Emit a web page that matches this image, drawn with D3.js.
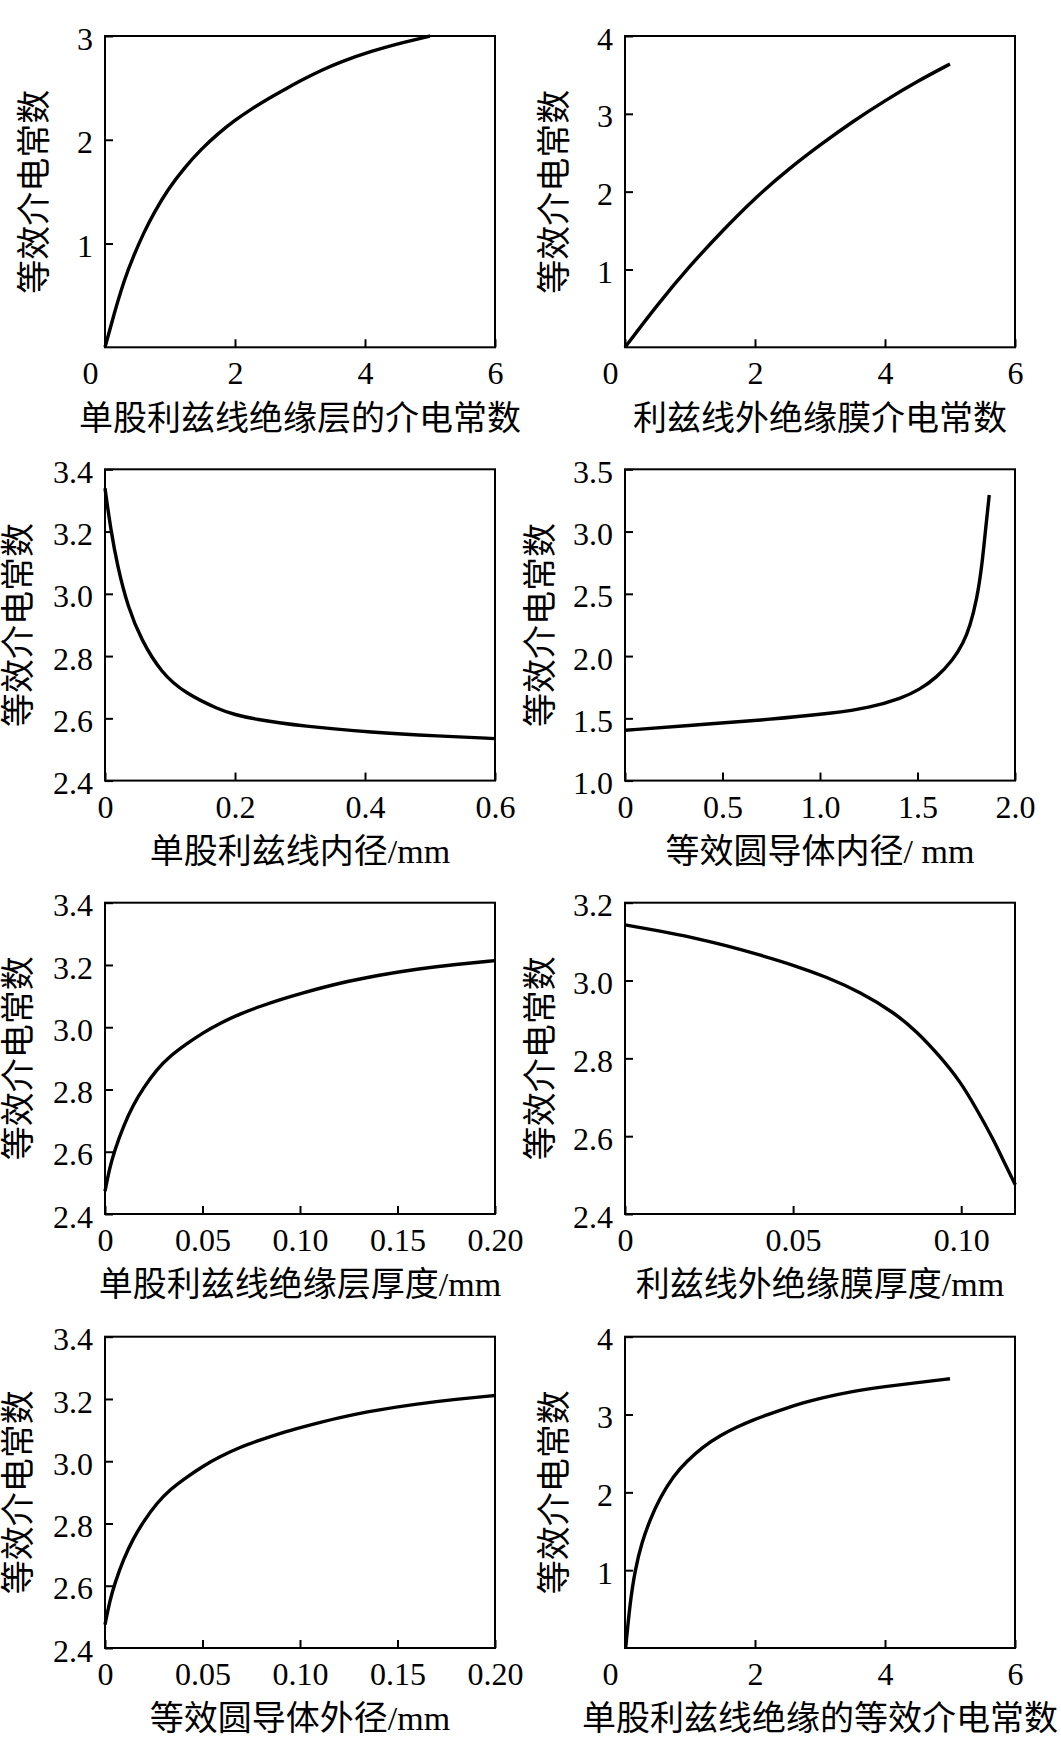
<!DOCTYPE html>
<html><head><meta charset="utf-8">
<script src="https://cdn.jsdelivr.net/npm/d3@7/dist/d3.min.js"></script>
<style>body{margin:0;background:#fff}</style>
</head><body>
<svg id="c" width="1061" height="1737"></svg>
<script>
// ---------- data ----------
const yTitle = "等效介电常数";

const p1X = [0, 0.134, 0.29, 0.445, 0.60, 0.757, 0.965, 1.22, 1.48, 1.74, 2.0, 2.26, 2.52, 2.78, 3.04, 3.33, 3.6, 4.1, 4.6, 5.0];
const p1Y = [0, 0.31, 0.64, 0.89, 1.11, 1.30, 1.52, 1.73, 1.91, 2.06, 2.19, 2.30, 2.40, 2.49, 2.58, 2.67, 2.745, 2.855, 2.94, 3.0];

const p2X = [0, 0.5, 1, 1.5, 2, 2.5, 3, 3.5, 4, 4.5, 5.0];
const p2Y = [0, 0.55, 1.05, 1.50, 1.92, 2.28, 2.60, 2.90, 3.17, 3.42, 3.64];

const p3X = [0, 0.0089, 0.0193, 0.035, 0.0557, 0.087, 0.123, 0.1755, 0.2, 0.2276, 0.306, 0.41, 0.514, 0.6];
const p3Y = [3.339, 3.205, 3.088, 2.959, 2.852, 2.745, 2.681, 2.628, 2.612, 2.598, 2.574, 2.555, 2.543, 2.535];

const p4X = [0, 0.382, 0.729, 1.076, 1.249, 1.422, 1.509, 1.596, 1.683, 1.735, 1.769, 1.804, 1.830, 1.847, 1.868];
const p4Y = [1.404, 1.449, 1.489, 1.543, 1.583, 1.663, 1.730, 1.824, 1.971, 2.104, 2.238, 2.452, 2.719, 2.987, 3.294];

const p5X = [0, 0.00256, 0.0051, 0.0094, 0.0145, 0.0197, 0.0265, 0.0333, 0.0419, 0.0504, 0.059, 0.0692, 0.08, 0.09, 0.10, 0.12, 0.14, 0.16, 0.18, 0.2];
const p5Y = [2.473, 2.553, 2.607, 2.682, 2.751, 2.805, 2.864, 2.907, 2.947, 2.983, 3.013, 3.043, 3.068, 3.089, 3.108, 3.142, 3.167, 3.187, 3.202, 3.214];

const p6X = [0, 0.01, 0.02, 0.03, 0.04, 0.05, 0.06, 0.07, 0.08, 0.0868, 0.0937, 0.0997, 0.1047, 0.1096, 0.1131, 0.1161];
const p6Y = [3.143, 3.128, 3.111, 3.090, 3.066, 3.040, 3.009, 2.970, 2.918, 2.869, 2.805, 2.741, 2.668, 2.591, 2.527, 2.475];

const p7X = [0, 0.00256, 0.0051, 0.0094, 0.0145, 0.0197, 0.0265, 0.0333, 0.0419, 0.0504, 0.059, 0.0692, 0.08, 0.09, 0.10, 0.12, 0.14, 0.16, 0.18, 0.2];
const p7Y = [2.475, 2.555, 2.609, 2.684, 2.752, 2.806, 2.865, 2.909, 2.949, 2.985, 3.015, 3.045, 3.069, 3.090, 3.108, 3.141, 3.165, 3.184, 3.199, 3.211];

const p8X = [0.01, 0.077, 0.154, 0.256, 0.385, 0.538, 0.743, 0.949, 1.205, 1.46, 1.72, 1.97, 2.23, 2.49, 2.74, 3.0, 3.5, 4.0, 4.5, 5.0];
const p8Y = [0, 0.58, 1.0, 1.35, 1.65, 1.93, 2.21, 2.40, 2.59, 2.73, 2.84, 2.93, 3.01, 3.085, 3.15, 3.21, 3.30, 3.36, 3.41, 3.46];

const xTitles = [
  "单股利兹线绝缘层的介电常数", "利兹线外绝缘膜介电常数",
  "单股利兹线内径/mm", "等效圆导体内径/ mm",
  "单股利兹线绝缘层厚度/mm", "利兹线外绝缘膜厚度/mm",
  "等效圆导体外径/mm", "单股利兹线绝缘的等效介电常数"
];

const xDomains = [[0, 6], [0, 6], [0, 0.6], [0, 2], [0, 0.2], [0, 0.116], [0, 0.2], [0, 6]];
const yDomains = [[0, 3], [0, 4], [2.4, 3.4], [1, 3.5], [2.4, 3.4], [2.4, 3.2], [2.4, 3.4], [0, 4]];

const xTickVals = [
  [0, 2, 4, 6], [0, 2, 4, 6], [0, 0.2, 0.4, 0.6], [0, 0.5, 1, 1.5, 2],
  [0, 0.05, 0.1, 0.15, 0.2], [0, 0.05, 0.1], [0, 0.05, 0.1, 0.15, 0.2], [0, 2, 4, 6]
];
const xTickLabels = [
  ["0", "2", "4", "6"], ["0", "2", "4", "6"], ["0", "0.2", "0.4", "0.6"], ["0", "0.5", "1.0", "1.5", "2.0"],
  ["0", "0.05", "0.10", "0.15", "0.20"], ["0", "0.05", "0.10"], ["0", "0.05", "0.10", "0.15", "0.20"], ["0", "2", "4", "6"]
];
const yTickVals = [
  [1, 2, 3], [1, 2, 3, 4], [2.4, 2.6, 2.8, 3.0, 3.2, 3.4], [1.0, 1.5, 2.0, 2.5, 3.0, 3.5],
  [2.4, 2.6, 2.8, 3.0, 3.2, 3.4], [2.4, 2.6, 2.8, 3.0, 3.2], [2.4, 2.6, 2.8, 3.0, 3.2, 3.4], [1, 2, 3, 4]
];
const yTickLabels = [
  ["1", "2", "3"], ["1", "2", "3", "4"], ["2.4", "2.6", "2.8", "3.0", "3.2", "3.4"], ["1.0", "1.5", "2.0", "2.5", "3.0", "3.5"],
  ["2.4", "2.6", "2.8", "3.0", "3.2", "3.4"], ["2.4", "2.6", "2.8", "3.0", "3.2"], ["2.4", "2.6", "2.8", "3.0", "3.2", "3.4"], ["1", "2", "3", "4"]
];

const seriesX = [p1X, p2X, p3X, p4X, p5X, p6X, p7X, p8X];
const seriesY = [p1Y, p2Y, p3Y, p4Y, p5Y, p6Y, p7Y, p8Y];

// ---------- layout ----------
const colLeft = [105, 625];
const rowTop = [36, 469.3, 902.7, 1336.7];
const plotW = 390, plotH = 311.3;
const yTitleX = [[34, 554], [18, 540], [18, 540], [18, 554]];
const originShift = [-15, -15, 0, 0, 0, 0, 0, -15];
const serif = "'Liberation Serif','Times New Roman','Noto Sans CJK SC',serif";

const svg = d3.select("#c");
svg.append("rect").attr("width", 1061).attr("height", 1737).attr("fill", "#fff");

for (let i = 0; i < 8; i++) {
  const r = Math.floor(i / 2), c = i % 2;
  const left = colLeft[c], top = rowTop[r];
  const x = d3.scaleLinear().domain(xDomains[i]).range([0, plotW]);
  const y = d3.scaleLinear().domain(yDomains[i]).range([plotH, 0]);
  const g = svg.append("g").attr("transform", `translate(${left},${top})`);

  // x axis
  const xa = g.append("g").attr("transform", `translate(0,${plotH})`)
    .call(d3.axisBottom(x).tickValues(xTickVals[i])
      .tickFormat((d, k) => xTickLabels[i][k]).tickSize(-8).tickPadding(0));
  xa.attr("font-family", null).attr("font-size", null);
  xa.select(".domain").remove();
  xa.selectAll("line").attr("stroke", "#000").attr("stroke-width", 2);
  xa.selectAll("text").attr("y", 37).attr("dy", null)
    .attr("x", (d, k) => k === 0 ? originShift[i] : 0)
    .style("font-size", "32px").style("font-family", serif).attr("fill", "#000");

  // y axis
  const ya = g.append("g")
    .call(d3.axisLeft(y).tickValues(yTickVals[i])
      .tickFormat((d, k) => yTickLabels[i][k]).tickSize(-8).tickPadding(12));
  ya.attr("font-family", null).attr("font-size", null);
  ya.select(".domain").remove();
  ya.selectAll("line").attr("stroke", "#000").attr("stroke-width", 2);
  ya.selectAll("text").attr("dy", "0.41em")
    .style("font-size", "32px").style("font-family", serif).attr("fill", "#000");

  // frame
  g.append("rect").attr("x", 0).attr("y", 0).attr("width", plotW).attr("height", plotH)
    .attr("fill", "none").attr("stroke", "#000").attr("stroke-width", 2);

  // curve
  const pts = seriesX[i].map((v, k) => [v, seriesY[i][k]]);
  g.append("path").datum(pts)
    .attr("d", d3.line().x(d => x(d[0])).y(d => y(d[1])).curve(d3.curveBasis))
    .attr("fill", "none").attr("stroke", "#000").attr("stroke-width", 3.4)
    .attr("stroke-linejoin", "round").attr("stroke-linecap", "butt");

  // titles
  g.append("text").attr("x", plotW / 2).attr("y", plotH + 71)
    .attr("text-anchor", "middle").attr("dominant-baseline", "central")
    .style("font-size", "34px").style("font-family", serif).attr("fill", "#000")
    .text(xTitles[i]);
  svg.append("text")
    .attr("transform", `translate(${yTitleX[r][c]},${top + plotH / 2}) rotate(-90)`)
    .attr("text-anchor", "middle").attr("dominant-baseline", "central")
    .style("font-size", "34px").style("font-family", serif).attr("fill", "#000")
    .text(yTitle);
}
</script>
</body></html>
